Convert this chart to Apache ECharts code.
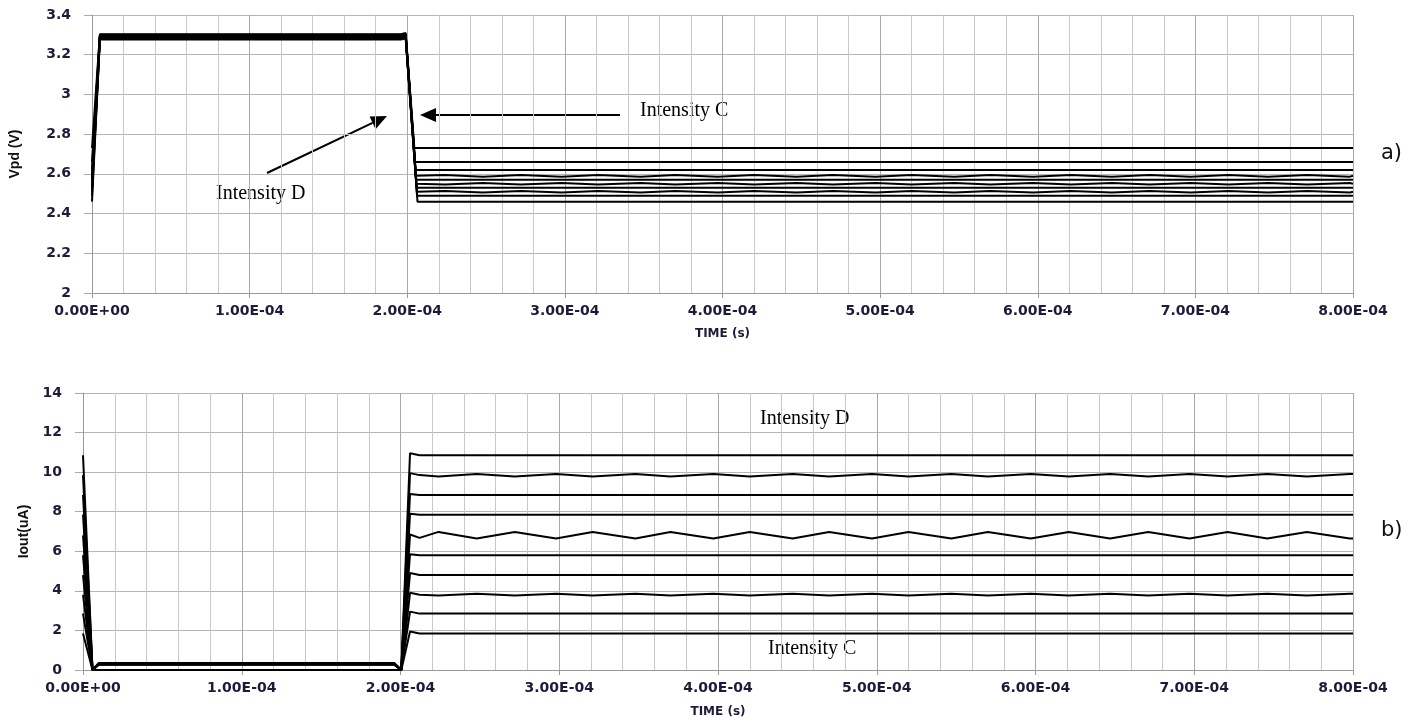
<!DOCTYPE html>
<html>
<head>
<meta charset="utf-8">
<script src="https://cdn.jsdelivr.net/npm/echarts@6/dist/echarts.min.js"></script>
<style>
  html, body { margin: 0; padding: 0; background: #fff; }
  #chart { width: 1413px; height: 721px; }
</style>
</head>
<body>
<div id="chart"></div>
<script>
// time values below are in units of 1e-4 s
const T_UNIT = 1e-4;

// shared time points of the ripple in the steady part
const tWave = [2.24, 2.48, 2.72, 2.98, 3.21, 3.48, 3.70, 3.97, 4.20, 4.47, 4.70, 4.97,
  5.20, 5.47, 5.70, 5.97, 6.21, 6.47, 6.71, 6.97, 7.21, 7.46, 7.71, 7.98];

// a) Vpd (V)
const vLevels = [2.73, 2.66, 2.62, 2.59, 2.57, 2.55, 2.53, 2.51, 2.49, 2.46];
const vPlateau = [3.303, 3.300, 3.297, 3.294, 3.291, 3.289, 3.286, 3.283, 3.280, 3.277];
const vFallEnd = [2.045, 2.050, 2.053, 2.055, 2.057, 2.058, 2.060, 2.061, 2.063, 2.065];
const vRise = 0.05;
const vPlateauEnd = 1.99;
const vRipple3 = [2.594, 2.586, 2.594, 2.586, 2.594, 2.586, 2.594, 2.586, 2.594, 2.586, 2.594, 2.586,
  2.594, 2.586, 2.594, 2.586, 2.594, 2.586, 2.594, 2.586, 2.594, 2.586, 2.594, 2.586];
const vRipple5 = [2.546, 2.554, 2.546, 2.554, 2.546, 2.554, 2.546, 2.554, 2.546, 2.554, 2.546, 2.554,
  2.546, 2.554, 2.546, 2.554, 2.546, 2.554, 2.546, 2.554, 2.546, 2.554, 2.546, 2.554];
const vRipple7 = [2.514, 2.506, 2.514, 2.506, 2.514, 2.506, 2.514, 2.506, 2.514, 2.506, 2.514, 2.506,
  2.514, 2.506, 2.514, 2.506, 2.514, 2.506, 2.514, 2.506, 2.514, 2.506, 2.514, 2.506];
const vRipples = { 3: vRipple3, 5: vRipple5, 7: vRipple7 };

// b) Iout (uA)
const iLevels = [10.85, 9.85, 8.85, 7.85, 6.8, 5.8, 4.8, 3.8, 2.85, 1.85];
const iLow = [0.36, 0.34, 0.33, 0.32, 0.31, 0.30, 0.29, 0.28, 0.27, 0.0];
const iOvershoot = [10.95, 9.95, 8.9, 7.9, 6.85, 5.85, 4.9, 3.9, 2.95, 1.95];
const iWave2 = [9.78, 9.9, 9.78, 9.9, 9.78, 9.9, 9.78, 9.9, 9.78, 9.9, 9.78, 9.9,
  9.78, 9.9, 9.78, 9.9, 9.78, 9.9, 9.78, 9.9, 9.78, 9.9, 9.78, 9.9];
const iWave5 = [6.98, 6.65, 6.98, 6.65, 6.98, 6.65, 6.98, 6.65, 6.98, 6.65, 6.98, 6.65,
  6.98, 6.65, 6.98, 6.65, 6.98, 6.65, 6.98, 6.65, 6.98, 6.65, 6.98, 6.65];
const iWave8 = [3.77, 3.85, 3.77, 3.85, 3.77, 3.85, 3.77, 3.85, 3.77, 3.85, 3.77, 3.85,
  3.77, 3.85, 3.77, 3.85, 3.77, 3.85, 3.77, 3.85, 3.77, 3.85, 3.77, 3.85];
const iWaves = { 1: iWave2, 4: iWave5, 7: iWave8 };

function pt(t, v) { return [t * T_UNIT, v]; }

function fmtExp(v) {
  if (Math.abs(v) < 1e-12) return '0.00E+00';
  const e = Math.floor(Math.log10(Math.abs(v)) + 1e-9);
  const m = v / Math.pow(10, e);
  return m.toFixed(2) + 'E' + (e < 0 ? '-' : '+') + String(Math.abs(e)).padStart(2, '0');
}

const series = [];
vLevels.forEach((lv, i) => {
  const data = [pt(0, lv), pt(vRise, vPlateau[i]), pt(1.96, vPlateau[i]),
    pt(vPlateauEnd, vPlateau[i] + 0.006), pt(vFallEnd[i], lv)];
  if (vRipples[i]) {
    tWave.forEach((t, k) => data.push(pt(t, vRipples[i][k])));
  }
  data.push(pt(8, lv));
  series.push({ type: 'line', xAxisIndex: 0, yAxisIndex: 0, data });
});
iLevels.forEach((lv, i) => {
  const data = [pt(0, lv), pt(0.06, 0), pt(0.1, iLow[i]), pt(1.96, iLow[i]),
    pt(2.005, 0), pt(2.06, iOvershoot[i])];
  if (iWaves[i]) {
    data.push(pt(2.12, i === 4 ? 6.68 : lv));
    tWave.forEach((t, k) => data.push(pt(t, iWaves[i][k])));
    data.push(pt(8, iWaves[i][iWaves[i].length - 1]));
  } else {
    data.push(pt(2.12, lv));
    data.push(pt(8, lv));
  }
  series.push({ type: 'line', xAxisIndex: 1, yAxisIndex: 1, data });
});
series.forEach((s) => {
  s.showSymbol = false;
  s.symbol = 'none';
  s.lineStyle = { color: '#000', width: 2 };
  s.itemStyle = { color: '#000' };
  s.silent = true;
});

const labelColor = '#1c1c3a';
function xAxisCfg(gridIndex, nameGap) {
  return {
    type: 'value', gridIndex, min: 0, max: 8 * T_UNIT, interval: T_UNIT,
    name: 'TIME (s)', nameLocation: 'middle', nameGap,
    nameTextStyle: { fontFamily: 'DejaVu Sans', fontWeight: 'bold', fontSize: 12, color: labelColor },
    axisLine: { lineStyle: { color: '#999', width: 1 } },
    axisTick: { show: true, length: 5, lineStyle: { color: '#999' } },
    axisLabel: { formatter: fmtExp, margin: 11, fontFamily: 'DejaVu Sans', fontWeight: 'bold', fontSize: 14, color: labelColor },
    splitLine: { show: true, lineStyle: { color: '#a8a8a8', width: 1 } },
    minorTick: { show: false, splitNumber: 5 },
    minorSplitLine: { show: true, lineStyle: { color: '#c8c8c8', width: 1 } }
  };
}
function yAxisCfg(gridIndex, min, max, interval, name, nameGap) {
  return {
    type: 'value', gridIndex, min, max, interval,
    name, nameLocation: 'middle', nameGap, nameRotate: 90,
    nameTextStyle: { fontFamily: 'Liberation Sans', fontWeight: 'bold', fontSize: 14, color: '#111' },
    axisLine: { show: true, lineStyle: { color: '#999', width: 1 } },
    axisTick: { show: true, length: 8, lineStyle: { color: '#aaa' } },
    axisLabel: { margin: 21, fontFamily: 'DejaVu Sans', fontWeight: 'bold', fontSize: 14, color: labelColor },
    splitLine: { show: true, lineStyle: { color: '#b6b6b6', width: 1 } }
  };
}

function arrowHead(tip, dir, len, half) {
  const n = Math.hypot(dir[0], dir[1]);
  const u = [dir[0] / n, dir[1] / n];
  const b = [tip[0] - u[0] * len, tip[1] - u[1] * len];
  const p = [-u[1], u[0]];
  return {
    base: b,
    points: [tip, [b[0] + p[0] * half, b[1] + p[1] * half], [b[0] - p[0] * half, b[1] - p[1] * half]]
  };
}
const headC = arrowHead([420, 115], [-1, 0], 16, 7);
const headD = arrowHead([387, 116], [120, -57], 16, 7);
const serif = { fontFamily: 'Liberation Serif', fontSize: 20, fill: '#000' };

const option = {
  animation: false,
  backgroundColor: '#fff',
  grid: [
    { left: 92, right: 60, top: 15, height: 278, containLabel: false },
    { left: 83, right: 60, top: 393, height: 277, containLabel: false }
  ],
  xAxis: [xAxisCfg(0, 35), xAxisCfg(1, 36)],
  yAxis: [
    yAxisCfg(0, 2, 3.4, 0.2, 'Vpd (V)', 70),
    yAxisCfg(1, 0, 14, 2, 'Iout(uA)', 52)
  ],
  series,
  graphic: [
    { type: 'line', shape: { x1: 620, y1: 115, x2: headC.base[0], y2: headC.base[1] }, style: { stroke: '#000', lineWidth: 2 } },
    { type: 'polygon', shape: { points: headC.points }, style: { fill: '#000' } },
    { type: 'line', shape: { x1: 267, y1: 173, x2: headD.base[0], y2: headD.base[1] }, style: { stroke: '#000', lineWidth: 2 } },
    { type: 'polygon', shape: { points: headD.points }, style: { fill: '#000' } },
    { type: 'text', left: 640, top: 101, style: Object.assign({ text: 'Intensity C' }, serif) },
    { type: 'text', left: 216, top: 184, style: Object.assign({ text: 'Intensity D' }, serif) },
    { type: 'text', left: 760, top: 409, style: Object.assign({ text: 'Intensity D' }, serif) },
    { type: 'text', left: 768, top: 639, style: Object.assign({ text: 'Intensity C' }, serif) },
    { type: 'text', left: 1381, top: 143, style: { text: 'a)', fontFamily: 'DejaVu Sans', fontSize: 21, fill: '#111' } },
    { type: 'text', left: 1381, top: 520, style: { text: 'b)', fontFamily: 'DejaVu Sans', fontSize: 21, fill: '#111' } }
  ]
};

const chart = echarts.init(document.getElementById('chart'));
chart.setOption(option);
</script>
</body>
</html>
